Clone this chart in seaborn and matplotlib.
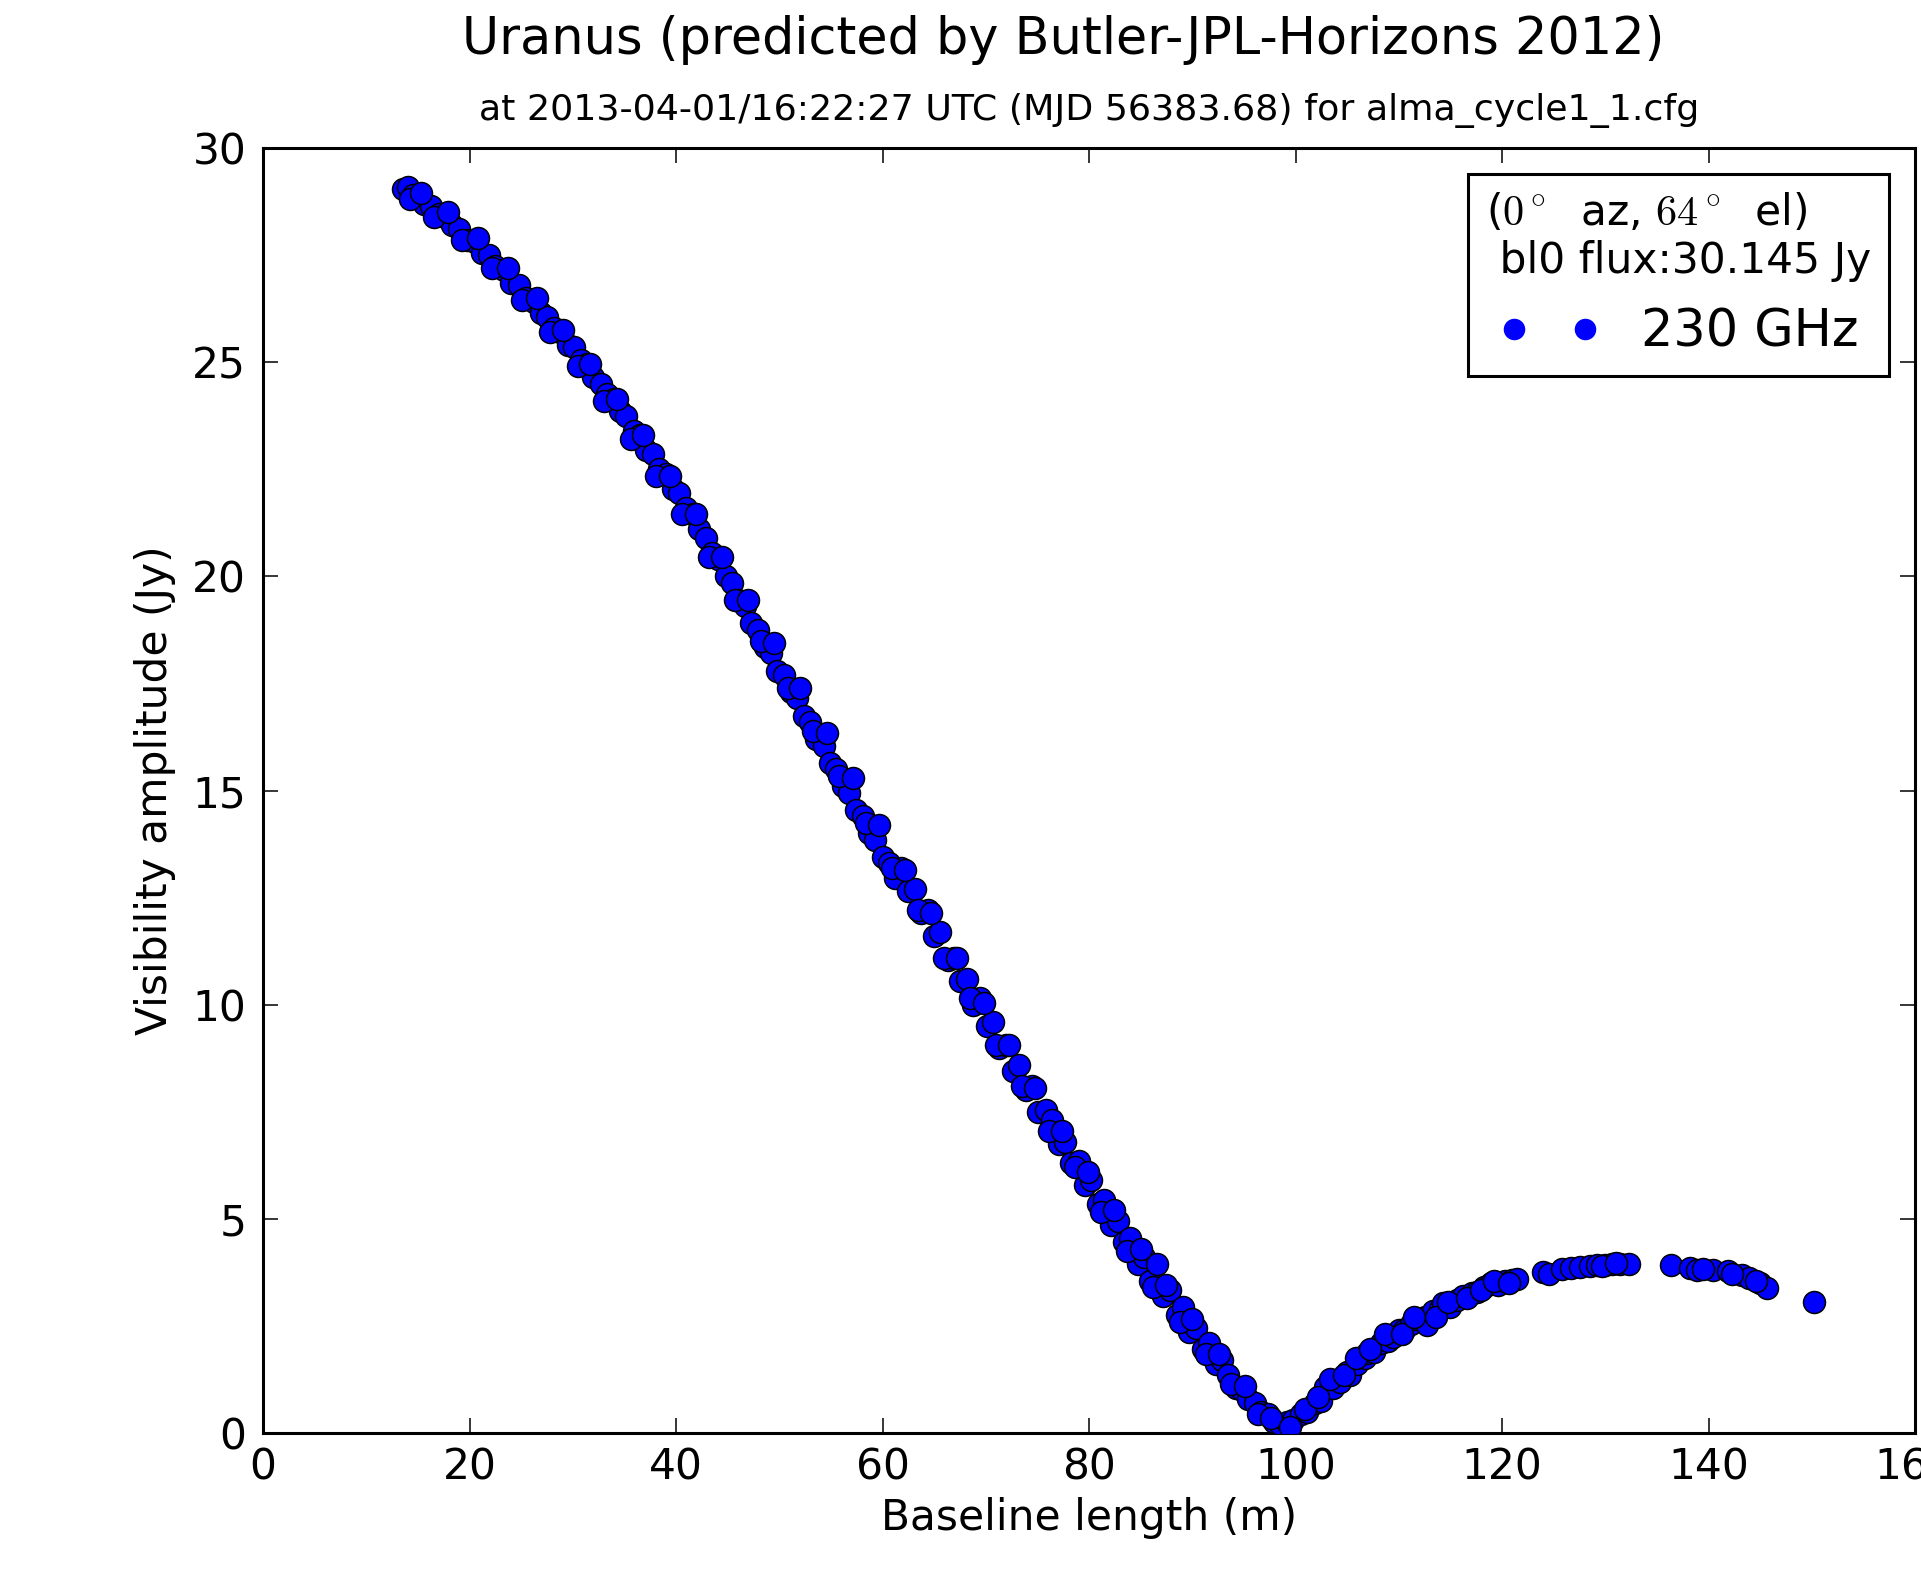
import matplotlib
matplotlib.use("Agg")
import matplotlib.pyplot as plt
from matplotlib.lines import Line2D
import numpy as np
import pandas as pd
import seaborn as sns

# ---------------- data ----------------
seg_a_x = [13.6, 14.0, 14.5, 15.0, 15.6, 16.3, 17.0, 17.6, 18.3, 19.0, 19.8, 20.5,
           21.2, 21.9, 22.5, 23.3, 24.0, 24.8, 25.5, 26.2, 26.9]
seg_a_y = [29.05, 29.1, 28.9, 28.85, 28.7, 28.65, 28.45, 28.4, 28.2, 28.1, 27.85, 27.8,
           27.55, 27.5, 27.25, 27.15, 26.85, 26.8, 26.5, 26.4, 26.15]

seg_b_x = [27.5, 28.2, 28.8, 29.5, 30.1, 30.8, 31.4, 32.0, 32.7, 33.3, 34.0,
           34.6, 35.2, 35.9, 36.5, 37.1, 37.8, 38.4, 39.0, 39.7, 40.3, 41.0]
seg_b_y = [26.05, 25.8, 25.7, 25.4, 25.35, 25.05, 24.95, 24.65, 24.5, 24.25, 24.15,
           23.85, 23.75, 23.4, 23.3, 22.95, 22.85, 22.5, 22.4, 22.05, 21.95, 21.6]

seg_c_x = [41.6, 42.2, 42.9, 43.5, 44.1, 44.8, 45.4, 46.0, 46.7, 47.3, 47.9, 48.6,
           49.2, 49.8, 50.5, 51.1, 51.7, 52.4, 53.0, 53.6, 54.3, 54.9, 55.5, 56.2,
           56.8, 57.4, 58.1, 58.7, 59.3, 60.0, 60.6, 61.2]
seg_c_y = [21.45, 21.1, 20.9, 20.55, 20.4, 20.0, 19.85, 19.45, 19.3, 18.9, 18.75, 18.35,
           18.2, 17.8, 17.7, 17.3, 17.15, 16.75, 16.6, 16.2, 16.05, 15.65, 15.5, 15.1,
           14.95, 14.55, 14.4, 14.0, 13.85, 13.45, 13.3, 12.95]

seg_d_x = [61.8, 62.5, 63.1, 63.7, 64.4, 65.0, 65.6, 66.3, 66.9, 67.5, 68.2, 68.8,
           69.4, 70.1, 70.7, 71.3, 72.0, 72.6, 73.2, 73.9, 74.5, 75.1, 75.8]
seg_d_y = [13.2, 12.65, 12.7, 12.15, 12.2, 11.6, 11.7, 11.05, 11.1, 10.55, 10.6, 10.0,
           10.15, 9.5, 9.6, 9.0, 9.05, 8.45, 8.6, 8.0, 8.1, 7.5, 7.55]

seg_e_x = [76.4, 77.1, 77.7, 78.3, 79.0, 79.6, 80.2, 80.9, 81.5, 82.1, 82.8, 83.4,
           84.0, 84.7, 85.3, 85.9, 86.6, 87.2, 87.8, 88.5, 89.1, 89.7, 90.4, 91.0,
           91.6, 92.3, 92.9, 93.5, 94.2, 94.8, 95.4, 96.1, 96.7, 97.3, 97.9, 98.5]
seg_e_y = [7.3, 6.75, 6.8, 6.3, 6.35, 5.8, 5.9, 5.35, 5.45, 4.85, 4.95, 4.45,
           4.55, 3.95, 4.1, 3.55, 3.95, 3.2, 3.35, 2.75, 2.95, 2.35, 2.45, 1.95,
           2.1, 1.6, 1.7, 1.35, 1.05, 1.0, 0.8, 0.7, 0.5, 0.45, 0.25, 0.2]

seg_f_x = [99.2, 99.8, 100.5, 101.1, 101.9, 102.5, 102.9, 103.6, 104.3, 105.0,
           105.3, 106.0, 106.7, 106.9, 107.6, 108.3, 109.0, 109.4, 110.0, 110.5,
           111.2, 111.8, 112.5, 112.7, 113.3, 114.0, 114.3, 115.0, 115.6, 116.2,
           117.1, 117.6, 118.3, 118.9, 119.6, 120.3, 121.0, 121.5, 124.0, 124.6,
           125.8, 126.7, 127.6, 128.5, 129.2, 130.0, 130.7, 131.4, 132.3, 136.4,
           138.2, 138.9, 140.4, 141.9, 143.2, 143.9, 145.0, 145.7, 150.2]
seg_f_y = [0.26, 0.3, 0.45, 0.5, 0.7, 0.75, 1.07, 1.05, 1.2, 1.42,
           1.35, 1.6, 1.75, 1.87, 1.9, 2.1, 2.15, 2.25, 2.4, 2.4,
           2.55, 2.65, 2.7, 2.52, 2.85, 2.9, 3.04, 2.95, 3.1, 3.2,
           3.27, 3.3, 3.4, 3.5, 3.45, 3.55, 3.57, 3.6, 3.76, 3.72,
           3.82, 3.85, 3.88, 3.9, 3.92, 3.93, 3.95, 3.95, 3.95, 3.92,
           3.85, 3.8, 3.8, 3.78, 3.68, 3.62, 3.5, 3.39, 3.07]

# second, interleaved group of baselines (main lobe)
seg_g_x = [14.2, 15.3, 16.6, 17.9, 19.3, 20.8, 22.2, 23.7, 25.1, 26.5,
           27.8, 29.1, 30.5, 31.7, 33.0, 34.3, 35.6, 36.8, 38.1, 39.4,
           40.6, 41.9, 43.2, 44.5, 45.7, 47.0, 48.2, 49.5, 50.8, 52.0,
           53.3, 54.6, 55.8, 57.1, 58.4, 59.7, 60.9, 62.2, 63.4, 64.7,
           66.0, 67.2, 68.5, 69.8, 71.0, 72.3, 73.5, 74.8, 76.1, 77.4,
           78.6, 79.9, 81.2, 82.4, 83.7, 85.0, 86.2, 87.5, 88.8, 90.0,
           91.3, 92.6, 93.8, 95.1, 96.4, 97.6]
seg_g_y = [28.8, 28.95, 28.4, 28.5, 27.85, 27.9, 27.2, 27.2, 26.45, 26.5,
           25.7, 25.75, 24.9, 24.95, 24.1, 24.15, 23.2, 23.3, 22.35, 22.35,
           21.45, 21.45, 20.45, 20.45, 19.45, 19.45, 18.5, 18.45, 17.4, 17.4,
           16.4, 16.35, 15.35, 15.3, 14.25, 14.2, 13.2, 13.15, 12.2, 12.15,
           11.1, 11.1, 10.15, 10.05, 9.05, 9.05, 8.1, 8.05, 7.05, 7.05,
           6.2, 6.1, 5.15, 5.2, 4.25, 4.3, 3.4, 3.45, 2.6, 2.65,
           1.85, 1.85, 1.15, 1.1, 0.45, 0.35]

# second group of baselines (second lobe)
seg_h_x = [99.5, 100.9, 102.2, 103.3, 104.7, 105.9, 107.2, 108.7, 110.3, 111.5,
           113.6, 114.8, 116.6, 118.0, 119.2, 120.7, 129.7, 131.0, 139.5, 142.3, 144.6]
seg_h_y = [0.15, 0.55, 0.85, 1.25, 1.35, 1.75, 1.95, 2.3, 2.3, 2.7,
           2.7, 3.05, 3.15, 3.35, 3.55, 3.5, 3.9, 3.97, 3.82, 3.72, 3.55]

baseline_m = seg_a_x + seg_b_x + seg_c_x + seg_d_x + seg_e_x + seg_f_x + seg_g_x + seg_h_x
amplitude_jy = seg_a_y + seg_b_y + seg_c_y + seg_d_y + seg_e_y + seg_f_y + seg_g_y + seg_h_y
assert len(baseline_m) == len(amplitude_jy)

x_ticks = [0, 20, 40, 60, 80, 100, 120, 140, 160]
y_ticks = [0, 5, 10, 15, 20, 25, 30]

title_main = "Uranus (predicted by Butler-JPL-Horizons 2012)"
title_sub = "at 2013-04-01/16:22:27 UTC (MJD 56383.68) for alma_cycle1_1.cfg"
legend_title = "($0^\\circ$  az, $64^\\circ$  el)\n bl0 flux:30.145 Jy"
series_label = "230 GHz"

df = pd.DataFrame({"baseline": baseline_m, "amp": amplitude_jy})

# ---------------- style ----------------
sns.set_style("ticks")
plt.rcParams.update({
    "axes.linewidth": 2.2,
    "axes.edgecolor": "black",
    "xtick.direction": "in",
    "ytick.direction": "in",
    "xtick.color": "black",
    "ytick.color": "black",
    "text.color": "black",
    "axes.labelcolor": "black",
    "mathtext.fontset": "cm",
})
plt.rcParams["font.family"] = ["DejaVu Sans"]

W, H = 1921, 1576
fig = plt.figure(figsize=(W / 100, H / 100), dpi=100)
ax_l, ax_r, ax_t, ax_b = 263, 1915, 148, 1433
ax = fig.add_axes([ax_l / W, 1 - ax_b / H, (ax_r - ax_l) / W, (ax_b - ax_t) / H])

sns.scatterplot(data=df, x="baseline", y="amp", ax=ax, s=250, color="#0000ff",
                edgecolor="black", linewidth=1.1, legend=False, zorder=3)

ax.set_xlim(0, 160)
ax.set_ylim(0, 30)
ax.set_xticks(x_ticks)
ax.set_yticks(y_ticks)
ax.tick_params(axis="both", which="major", direction="in", top=True, right=True,
               length=11, width=1.1, labelsize=30.5)
ax.tick_params(axis="x", pad=10)
ax.tick_params(axis="y", pad=12)

ax.set_xlabel("Baseline length (m)", fontsize=30.5, labelpad=6)
ax.set_ylabel("Visibility amplitude (Jy)", fontsize=30.5, labelpad=12)

ax.set_title(title_sub, fontsize=26.2, pad=20)
fig.text(1063 / W, 1 - 40 / H, title_main, fontsize=36.6, ha="center", va="center")

handle = Line2D([], [], ls="none", marker="o", markersize=15.5,
                markerfacecolor="#0000ff", markeredgecolor="#0000ff", markeredgewidth=0)
leg = ax.legend([handle], [series_label], title=legend_title, numpoints=2,
                loc="upper right", bbox_to_anchor=(1889 / W, 1 - 174 / H),
                bbox_transform=fig.transFigure, borderaxespad=0,
                fontsize=36.6, title_fontsize=30.5, fancybox=False, shadow=False,
                framealpha=1, edgecolor="black", handlelength=2.0, handletextpad=0.8,
                borderpad=0.35)
leg.get_frame().set_linewidth(2.2)
leg.get_title().set_multialignment("left")

fig.savefig("out.png", dpi=100, facecolor="white")
